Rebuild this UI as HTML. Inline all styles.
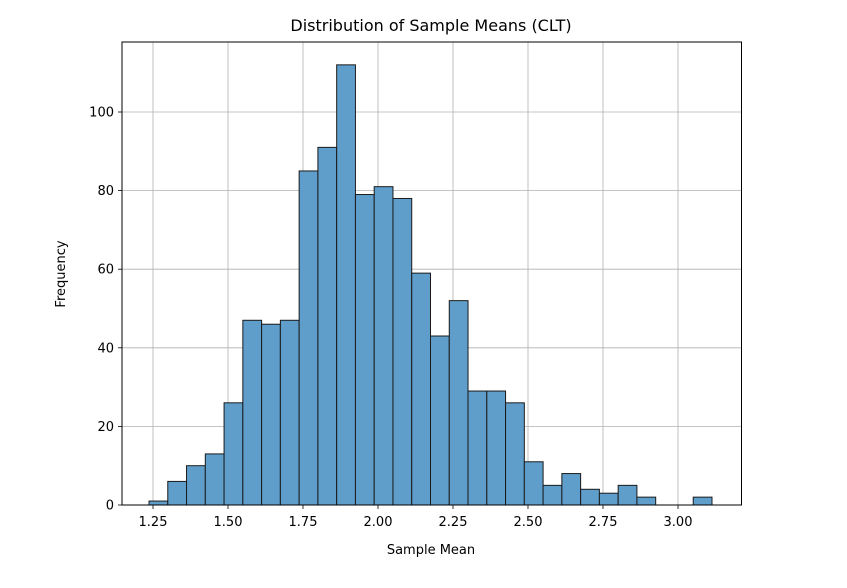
<!DOCTYPE html>
<html><head><meta charset="utf-8"><style>
body{margin:0;background:#fff;font-family:"Liberation Sans","DejaVu Sans",sans-serif}
</style></head><body>
<svg id="chart" width="847" height="583" xmlns="http://www.w3.org/2000/svg" font-family="DejaVu Sans, Liberation Sans, sans-serif">
<g id="grid"></g>
<g id="bars"></g>
<rect x="122" y="42" width="619.5" height="463" fill="none" stroke="#000" stroke-width="1"/>
<g id="ticks"></g>
<text x="431" y="31" font-size="16" text-anchor="middle" fill="#000">Distribution of Sample Means (CLT)</text>
<text x="431" y="554" font-size="13" text-anchor="middle" fill="#000">Sample Mean</text>
<text x="65" y="274" font-size="13" text-anchor="middle" fill="#000" transform="rotate(-90 65 274)">Frequency</text>
</svg>
<script>
const counts=[1,6,10,13,26,47,46,47,85,91,112,79,81,78,59,43,52,29,29,26,11,5,8,4,3,5,2,0,0,2];
const binStart=1.2367;
const binEnd=3.1133;
const xTicks=[1.25,1.5,1.75,2.0,2.25,2.5,2.75,3.0];
const yTicks=[0,20,40,60,80,100];
const NS="http://www.w3.org/2000/svg";
function X(v){return 153+(v-1.25)*300;}
function Y(v){return 505-v*3.93;}
const grid=document.getElementById('grid'),bars=document.getElementById('bars'),ticks=document.getElementById('ticks');
function mk(tag,attrs,parent){const e=document.createElementNS(NS,tag);for(const k in attrs)e.setAttribute(k,attrs[k]);parent.appendChild(e);return e;}
xTicks.forEach(t=>{
  const l=mk('line',{x1:X(t),x2:X(t),y1:42,y2:505,stroke:'#b0b0b0','stroke-width':0.8},grid);
  
  
  const tk=mk('line',{x1:X(t),x2:X(t),y1:505,y2:509,stroke:'#000','stroke-width':0.8},ticks);
  
  
  const tx=mk('text',{x:X(t),y:526,'font-size':13,'text-anchor':'middle',fill:'#000'},ticks);
  tx.textContent=t.toFixed(2);
  
  
});
yTicks.forEach(t=>{
  const l=mk('line',{x1:122,x2:741.5,y1:Y(t),y2:Y(t),stroke:'#b0b0b0','stroke-width':0.8},grid);
  
  
  const tk=mk('line',{x1:118,x2:122,y1:Y(t),y2:Y(t),stroke:'#000','stroke-width':0.8},ticks);
  
  
  const tx=mk('text',{x:114,y:Y(t)+4.5,'font-size':13,'text-anchor':'end',fill:'#000'},ticks);
  tx.textContent=t;
  
  
});
const w=(binEnd-binStart)/counts.length;
counts.forEach((c,i)=>{
  if(c<=0)return;
  const x0=X(binStart+i*w),x1=X(binStart+(i+1)*w);
  const r=mk('rect',{x:x0,y:Y(c),width:x1-x0,height:Y(0)-Y(c),fill:'#5f9ecb',stroke:'#1a1a1a','stroke-width':1},bars);
  
  
});
</script>
</body></html>
